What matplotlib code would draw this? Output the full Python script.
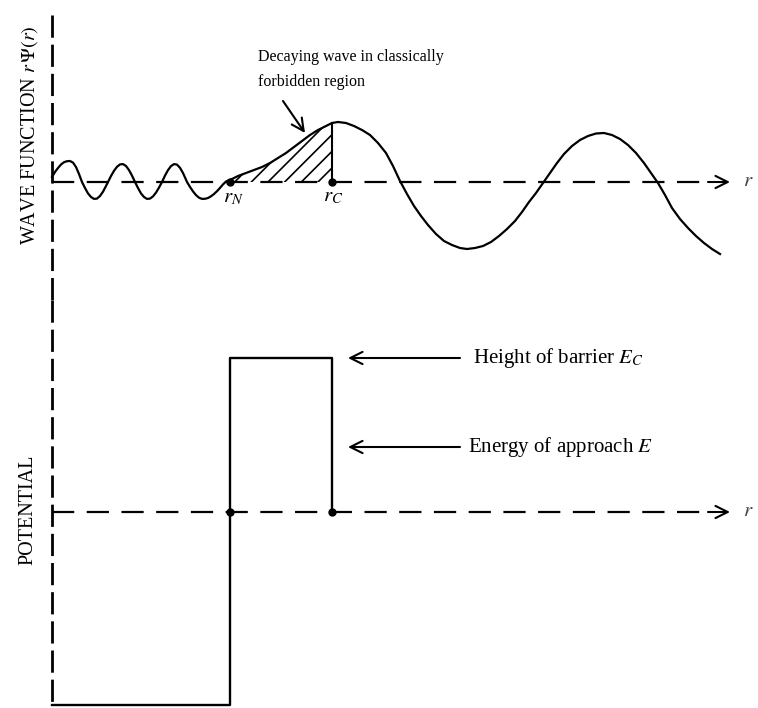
import numpy as np
import matplotlib.pyplot as plt

plt.rcParams['font.family'] = ['Liberation Serif', 'DejaVu Serif']
plt.rcParams['mathtext.fontset'] = 'stix'
plt.rcParams['lines.scale_dashes'] = False
plt.rcParams['hatch.linewidth'] = 1.2

# wave function r*psi(r) (arbitrary units, r = 0 at the left axis)
r_wave = [0, 3, 6, 9, 12, 15, 18, 21, 24, 27, 30, 33, 36, 39, 42, 45, 48, 51, 54, 56,
          59, 62, 65, 68, 71, 74, 77, 80, 83, 86, 89, 92, 95, 98, 101, 104, 107, 110,
          113, 116, 119, 122, 125, 128, 131, 134, 135, 138, 141, 144, 147, 150, 153, 156,
          159, 162, 165, 168, 171, 174, 178,
          186, 194, 202, 210, 218, 226, 234, 242, 250, 258, 266, 274, 280, 286,
          294, 302, 310, 318, 326, 334, 341, 348, 355, 362, 369, 376, 384, 392, 400, 408,
          415, 423, 431, 439, 447, 455, 463, 470, 477, 484, 491, 498, 505, 512, 520, 528,
          536, 544, 552, 560, 568, 576, 584, 592, 599, 606, 613, 620, 628, 636, 644, 652,
          660, 668]
psi_wave = [5, 10, 14, 17.5, 19.8, 20.8, 21, 19.4, 15, 8, 0, -6, -11.4, -15, -16.9, -16.6,
            -14, -9.7, -4, 0,
            6, 11.2, 15.2, 17.6, 17.9, 16, 11.9, 6.4, 0, -6, -11.4, -15, -16.9, -16.6,
            -14.4, -10.6, -5.6, 0,
            6.4, 11.9, 15.9, 17.9, 17.4, 14.2, 9, 2.3, 0, -4.9, -9.4, -13.1, -15.7, -16.9,
            -16.8, -16, -14.3, -12, -9.2, -5.9, -2.4, 0.5, 2,
            6, 9, 12, 15, 19, 24, 29, 35, 41, 47, 52, 56, 59, 60,
            59, 56, 52, 47, 39, 29, 16, 1, -12, -24, -34, -43, -52, -59, -63, -66,
            -67, -66, -64, -60, -54, -47, -39, -30, -20, -11, -1, 9, 19, 28, 36, 42,
            46, 48.5, 49, 47, 43, 37, 29, 19, 9, -1, -13, -26, -37, -46, -54, -61,
            -67, -72]

r_N = 178      # nuclear radius
r_C = 280      # classical turning point
V_well = -193  # bottom of the nuclear well
E_C = 154      # height of the Coulomb barrier
E_app = 65     # energy of approach
r_end = 678    # tip of the r axis

r_wave = np.array(r_wave)
psi_wave = np.array(psi_wave)

fig = plt.figure(figsize=(7.58, 7.08), dpi=100)
ax_w = fig.add_axes([0, 408 / 708, 1, 300 / 708])
ax_v = fig.add_axes([0, 0, 1, 408 / 708])
ax_w.set_xlim(-52, 706)
ax_w.set_ylim(-118, 182)
ax_v.set_xlim(-52, 706)
ax_v.set_ylim(-196, 212)
for ax in (ax_w, ax_v):
    ax.axis('off')

dash_axis = (0, (16, 5))
dash_base = (0, (16, 9))
arrow = dict(arrowstyle='->', lw=1.5, color='k', mutation_scale=22, shrinkA=0, shrinkB=0)

# ---- wave function panel
ax_w.plot([0, 0], [167, -118], color='k', lw=2, linestyle=dash_axis, clip_on=False)
ax_w.plot([0, r_end - 26], [0, 0], color='k', lw=1.6, linestyle=dash_base)
ax_w.annotate('', xy=(r_end, 0), xytext=(r_end - 22, 0), arrowprops=arrow)
ax_w.text(r_end + 13, 0, '$r$', fontsize=15, va='center', ha='left', color='#444444')

ax_w.plot(r_wave, psi_wave, color='k', lw=1.6)
inside = (r_wave >= r_N) & (r_wave <= r_C)
ax_w.fill_between(r_wave[inside], 0, psi_wave[inside], facecolor='none',
                  edgecolor='k', hatch='//', linewidth=0)
ax_w.plot([r_C, r_C], [0, np.interp(r_C, r_wave, psi_wave)], color='k', lw=1.5)
ax_w.plot([r_N, r_C], [0, 0], 'o', color='k', markersize=5)
ax_w.text(r_N + 3, -16, '$r_N$', fontsize=15, ha='center', va='center')
ax_w.text(r_C + 1, -15, '$r_C$', fontsize=15, ha='center', va='center')

ax_w.text(-22, 47, r'WAVE FUNCTION $r\,\mathit{\Psi}(r)$', rotation=90, fontsize=14.5,
          ha='center', va='center')
ax_w.text(206, 112.5, 'Decaying wave in classically\nforbidden region', fontsize=11.5,
          ha='left', va='center', linespacing=1.75)
ax_w.annotate('', xy=(253, 49), xytext=(231, 81), arrowprops=arrow)

# ---- potential panel
ax_v.plot([0, 0], [212, V_well], color='k', lw=2, linestyle=dash_axis, clip_on=False)
ax_v.plot([0, r_end - 26], [0, 0], color='k', lw=1.6, linestyle=dash_base)
ax_v.annotate('', xy=(r_end, 0), xytext=(r_end - 22, 0), arrowprops=arrow)
ax_v.text(r_end + 13, 0, '$r$', fontsize=15, va='center', ha='left', color='#444444')

ax_v.plot([0, r_N, r_N, r_C, r_C], [V_well, V_well, E_C, E_C, 0], color='k', lw=1.7)
ax_v.plot([r_N, r_C], [0, 0], 'o', color='k', markersize=5)

ax_v.annotate('', xy=(r_C + 16, E_C), xytext=(r_C + 128, E_C), arrowprops=arrow)
ax_v.text(r_C + 141, E_C, 'Height of barrier $E_C$', fontsize=15, ha='left', va='center')
ax_v.annotate('', xy=(r_C + 16, E_app), xytext=(r_C + 128, E_app), arrowprops=arrow)
ax_v.text(r_C + 136, E_app, 'Energy of approach $E$', fontsize=15, ha='left', va='center')

ax_v.text(-24, 2, 'POTENTIAL', rotation=90, fontsize=14.5, ha='center', va='center')

fig.savefig('out.png', dpi=100)
